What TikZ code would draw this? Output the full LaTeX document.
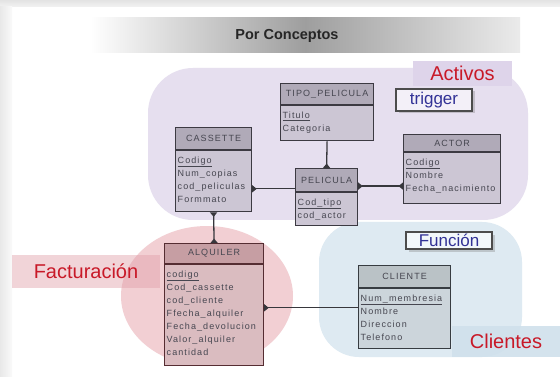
\documentclass[tikz,border=0pt]{standalone}
\usepackage{fontspec}
\setmainfont{Liberation Sans}
\newfontfamily\erfont[LetterSpace=12]{Liberation Sans}
\usetikzlibrary{arrows.meta,shadows}

% palette
\definecolor{lav}{RGB}{230,223,239}
\definecolor{lavlab}{RGB}{222,212,234}
\definecolor{skyreg}{RGB}{222,234,242}
\definecolor{skylab}{RGB}{208,225,236}
\definecolor{pinkreg}{RGB}{242,207,211}
\definecolor{pinkband}{RGB}{225,160,170}
\definecolor{labred}{RGB}{200,25,40}
\definecolor{tagblue}{RGB}{50,50,150}
\definecolor{erline}{RGB}{55,55,60}
\definecolor{ertext}{RGB}{70,70,80}
\definecolor{lvhead}{RGB}{176,170,184}
\definecolor{lvbody}{RGB}{204,198,212}
\definecolor{lvline}{RGB}{60,58,66}
\definecolor{pkhead}{RGB}{198,158,163}
\definecolor{pkbody}{RGB}{218,188,192}
\definecolor{pkline}{RGB}{85,45,50}
\definecolor{blhead}{RGB}{186,194,198}
\definecolor{blbody}{RGB}{204,213,219}
\definecolor{blline}{RGB}{55,60,65}

\tikzset{
  erhead/.style={anchor=north west, inner sep=0pt, line width=1.2pt,
    font=\erfont\fontsize{9}{10}\selectfont, text=ertext},
  erbody/.style={inner sep=0pt, line width=1.2pt},
  erfields/.style={inner xsep=2.5pt, inner ysep=6.5pt, align=left,
    font=\erfont\fontsize{9}{13}\selectfont, text=ertext},
  labbox/.style={inner sep=0pt, text=labred, font=\fontsize{20}{22}\selectfont},
  tagbox/.style={draw=black!70, line width=1.3pt, inner sep=0pt, text=tagblue,
    font=\fontsize{17}{18}\selectfont,
    drop shadow={shadow xshift=2.5pt, shadow yshift=-2.5pt, opacity=.35}},
  erfoot/.tip={Triangle[reversed,length=4.5pt,width=7pt]},
  conn/.style={draw=erline, line width=1.3pt},
}

% entity: name, left, top, width, header height, body height, colour set, title, fields
\newcommand\erentity[9]{%
  \node[erhead, fill=#7head, draw=#7line, minimum width=#4pt, minimum height=#5pt]
    (#1-h) at (#2,#3) {#8};
  \node[erbody, fill=#7body, draw=#7line, minimum width=#4pt, minimum height=#6pt,
    anchor=north west] (#1-b) at (#1-h.south west) {};
  \node[erfields, anchor=north west] (#1-f) at (#1-b.north west) {#9};
}

\begin{document}
\begin{tikzpicture}[x=1pt,y=-1pt]
\useasboundingbox (0,0) rectangle (560,377);

% page frame
\fill[white] (0,0) rectangle (560,377);
\shade[top color=black!11, bottom color=black!5] (0,0) rectangle (560,7);
\shade[left color=black!9, right color=black!2] (0,7) rectangle (12,377);

% title bar
\shade[left color=white, right color=black!8, middle color=black!38] (90,18) rectangle (520,53);
\node[font=\bfseries\fontsize{14.5}{16}\selectfont, text=black!85] (title) at (287,36) {Por Conceptos};

% grouping regions
\fill[lav, rounded corners=45pt] (148,68) rectangle (528,220);
\fill[skyreg, rounded corners=40pt] (319,222) rectangle (522,357);
\fill[pinkreg] (207,296) ellipse [x radius=86, y radius=70];

% region labels
\node[labbox, fill=lavlab, minimum width=99pt, minimum height=25pt] (activos) at (462.5,73.5) {Activos};
\node[labbox, fill=pinkband, fill opacity=.45, text opacity=1, minimum width=148pt, minimum height=33pt] (facturacion) at (86,271.5) {Facturación};
\node[labbox, fill=skylab, fill opacity=.9, text opacity=1, minimum width=108pt, minimum height=31pt] (clientes) at (506,341.5) {Clientes};

% tags
\node[tagbox, fill=lavlab!35!white, minimum width=76pt, minimum height=22pt] (trigger) at (434,100) {trigger};
\node[tagbox, fill=skyreg!40!white, minimum width=86pt, minimum height=17pt] (funcion) at (449,240.5) {Función};

% entities
\erentity{tipo}{280}{83}{93}{21}{35}{lv}{TIPO\_PELICULA}{\underline{Titulo}\\Categoria}
\erentity{cassette}{175}{127}{76}{22}{61}{lv}{CASSETTE}{\underline{Codigo}\\Num\_copias\\cod\_peliculas\\Formmato}
\erentity{pelicula}{295}{168}{62}{23}{33}{lv}{PELICULA}{\underline{Cod\_tipo}\\cod\_actor}
\erentity{actor}{403}{134}{97}{17}{51}{lv}{ACTOR}{\underline{Codigo}\\Nombre\\Fecha\_nacimiento}
\erentity{alquiler}{164}{243}{99}{20}{101}{pk}{ALQUILER}{\underline{codigo}\\Cod\_cassette\\cod\_cliente\\Ffecha\_alquiler\\Fecha\_devolucion\\Valor\_alquiler\\cantidad}
\erentity{cliente}{358}{265}{92}{22}{60}{bl}{CLIENTE}{\underline{Num\_membresia}\\Nombre\\Direccion\\Telefono}

% relationships
\draw[conn, -{erfoot}] (tipo-b.south) -- (pelicula-h.north);
\coordinate (cp) at ([yshift=-7.5pt]cassette-b.east);
\draw[conn, {erfoot}-] (cp) -- (cp -| pelicula-h.west);
\coordinate (pa) at ([yshift=-6pt]pelicula-h.east);
\draw[conn, {erfoot}-{erfoot}] (pa) -- (pa -| actor-b.west);
\draw[conn, {erfoot}-{erfoot}] (cassette-b.south) -- (alquiler-h.north);
\coordinate (ac) at ([yshift=7.5pt]alquiler-b.east);
\draw[conn, {erfoot}-] (ac) -- (ac -| cliente-b.west);
\end{tikzpicture}
\end{document}
